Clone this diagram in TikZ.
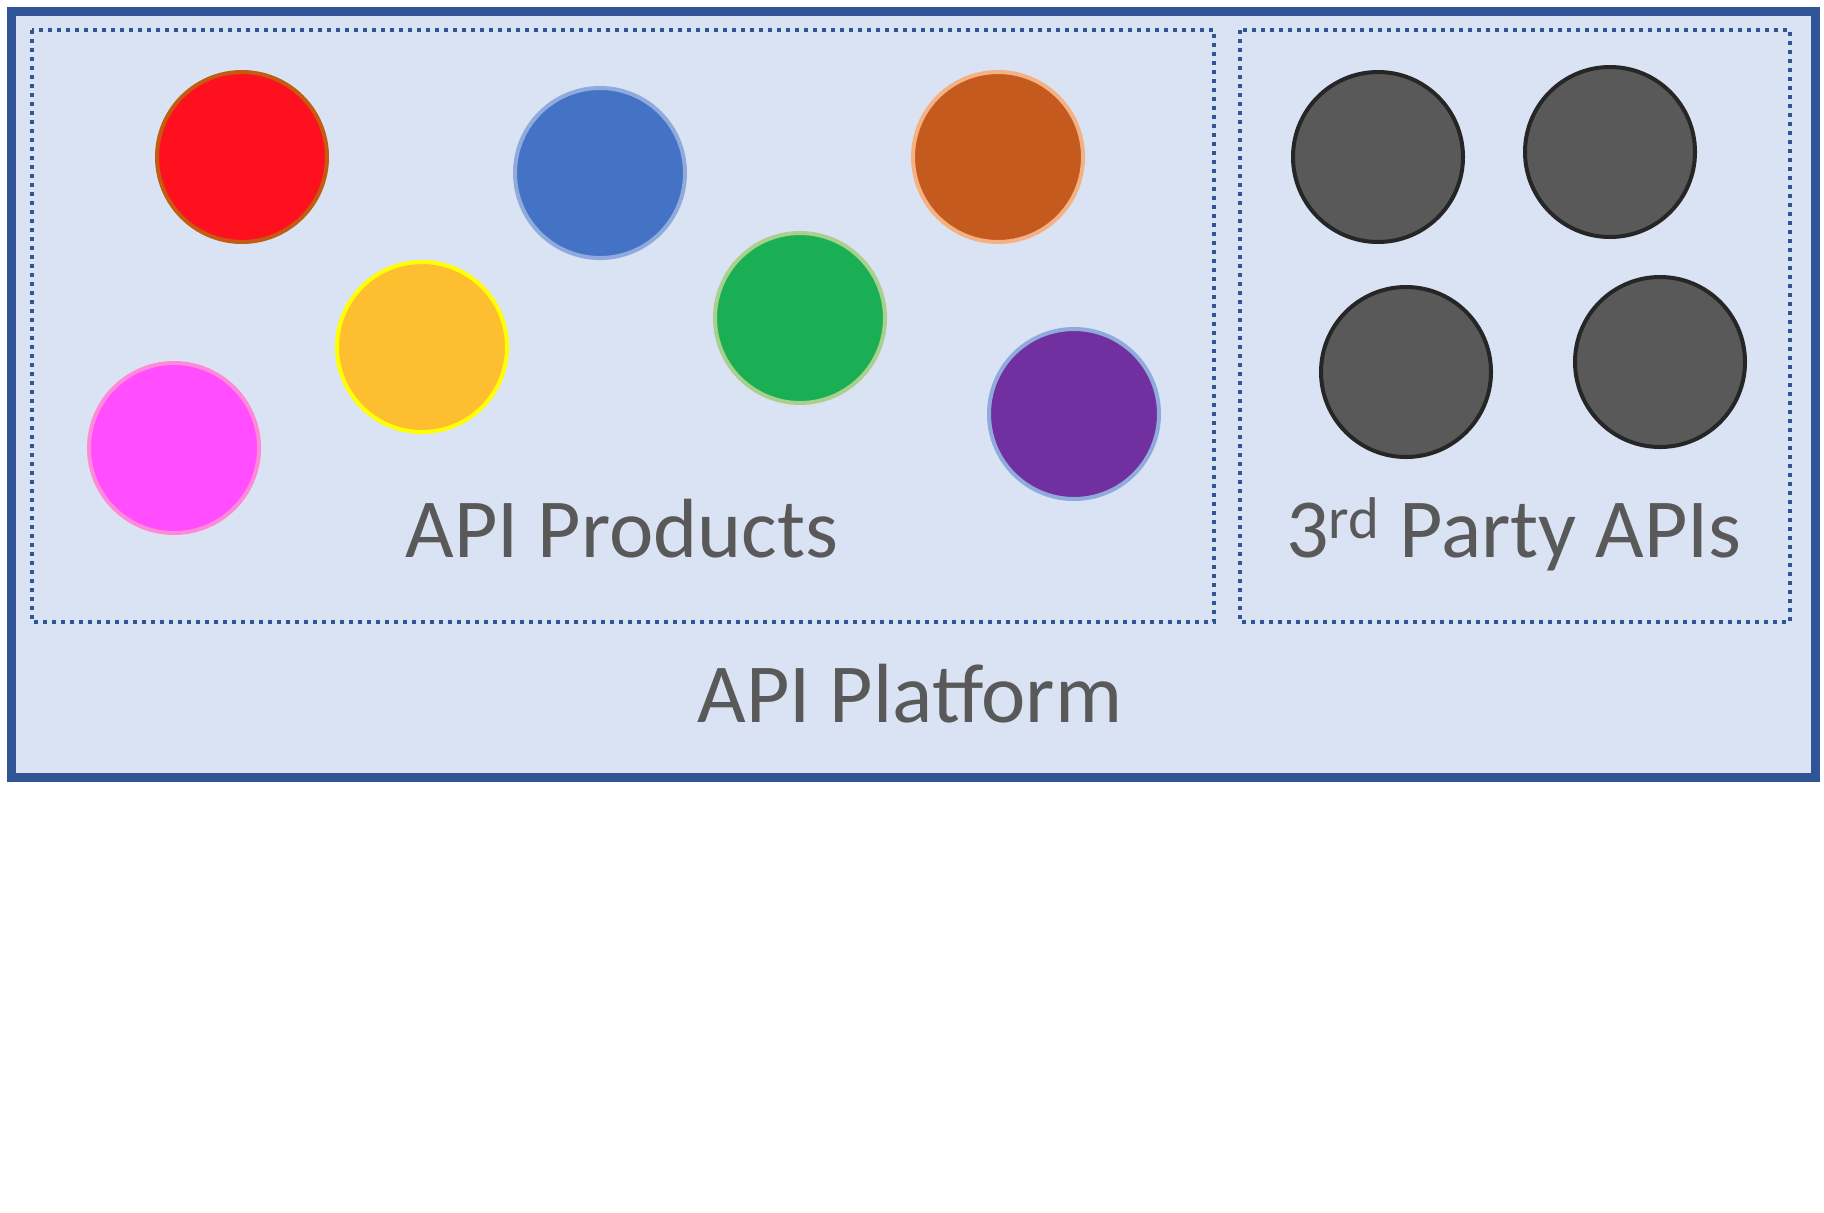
\documentclass[tikz,border=0pt]{standalone}
\usepackage{fontspec}
\setmainfont{Carlito}
\usetikzlibrary{positioning}

\definecolor{platfill}{HTML}{DAE3F3}
\definecolor{platline}{HTML}{2F5597}
\definecolor{labelgray}{HTML}{595959}

\begin{document}
\begin{tikzpicture}[x=0.5pt,y=-0.5pt]
\tikzset{platform/.style={draw=platline,line width=4.5pt,fill=platfill},
  group/.style={draw=platline,line width=1.9pt,dash pattern=on 2pt off 2.5pt},
  api/.style={circle,inner sep=0pt,minimum size=85pt,line width=2pt},
  ext/.style={api,fill=labelgray,draw=black!85},
  lbl/.style={anchor=base,text=labelgray,inner sep=0pt,font=\fontsize{42}{50}\selectfont}};
   \useasboundingbox (0,0) rectangle (1824,1212);
   \draw[platform] (11,11) rectangle (1815,777);
   \draw[group] (32,30) rectangle (1214,622);
   \draw[group] (1240,30) rectangle (1790,622);

   % API products
   \node[api,fill={rgb,255:red,255;green,16;blue,31},draw={rgb,255:red,197;green,90;blue,17}] (red) at (242,157) {};
   \node[api,fill={rgb,255:red,68;green,114;blue,196},draw={rgb,255:red,143;green,170;blue,220}] (blue) at (600,173) {};
   \node[api,fill={rgb,255:red,197;green,90;blue,31},draw={rgb,255:red,244;green,177;blue,131}] (orange) at (998,157) {};
   \node[api,fill={rgb,255:red,253;green,191;blue,47},draw={rgb,255:red,255;green,255;blue,0}] (yellow) at (422,347) {};
   \node[api,fill={rgb,255:red,26;green,174;blue,85},draw={rgb,255:red,169;green,209;blue,142}] (green) at (800,318) {};
   \node[api,fill={rgb,255:red,255;green,77;blue,255},draw={rgb,255:red,255;green,138;blue,216}] (pink) at (174,448) {};
   \node[api,fill={rgb,255:red,112;green,48;blue,160},draw={rgb,255:red,143;green,170;blue,220}] (purple) at (1074,414) {};

   % 3rd party
   \node[ext] (ext1) at (1378,157) {};
   \node[ext] (ext2) at (1610,152) {};
   \node[ext] (ext3) at (1406,372) {};
   \node[ext] (ext4) at (1660,362) {};

   \node[lbl] (prod) at (622,557) {API Products};
   \node[lbl] (third) at (1514,557) {3\textsuperscript{rd} Party APIs};
   \node[lbl] (plat) at (910,722) {API Platform};
\end{tikzpicture}
\end{document}
